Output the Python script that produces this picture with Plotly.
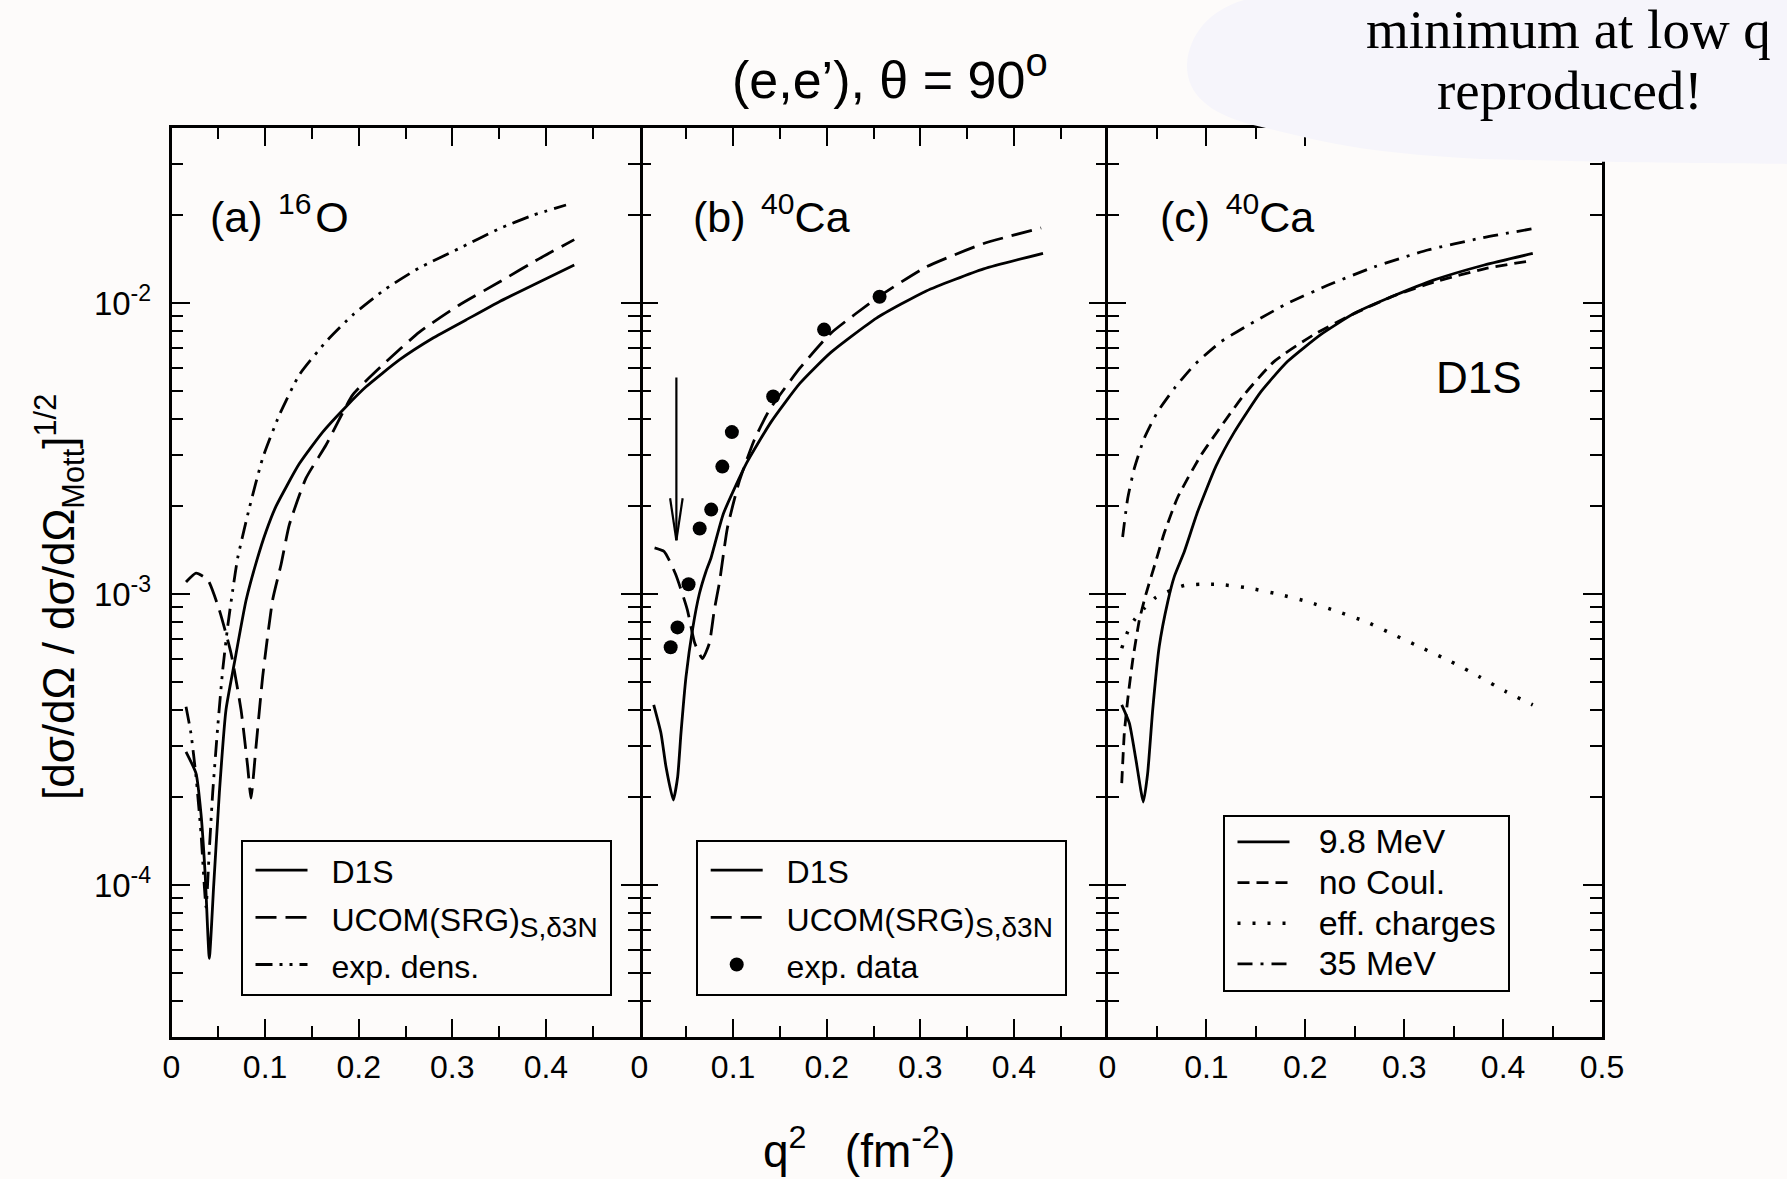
import numpy as np
import plotly.graph_objects as go

# ---------------- data ----------------
# panel (a) 16O
qa_d1s = [0.0155, 0.0262, 0.0315, 0.0361, 0.0404, 0.0451, 0.0511, 0.0582, 0.0671, 0.0796, 0.0913, 0.101,
          0.1116, 0.1365, 0.1615, 0.1864, 0.2078, 0.2434, 0.279, 0.3146, 0.3502, 0.3859, 0.4303]
va_d1s = [2.87e-4, 2.42e-4, 1.76e-4, 1.07e-4, 5.6e-5, 1.0e-4, 2.07e-4, 4.0e-4, 5.78e-4, 9.5e-4, 1.31e-3, 1.64e-3,
          2.0e-3, 2.8e-3, 3.6e-3, 4.4e-3, 5.15e-3, 6.37e-3, 7.56e-3, 8.74e-3, 1.01e-2, 1.15e-2, 1.35e-2]

qa_ucom = [0.0155, 0.0262, 0.0387, 0.0511, 0.0636, 0.0743, 0.0814, 0.0849, 0.0903, 0.0974, 0.108, 0.117,
           0.1259, 0.1437, 0.1651, 0.1936, 0.2256, 0.2648, 0.3075, 0.3502, 0.393, 0.4303]
va_ucom = [1.10e-3, 1.18e-3, 1.12e-3, 8.81e-4, 6.26e-4, 4.0e-4, 2.55e-4, 1.99e-4, 2.99e-4, 5.2e-4, 9.53e-4, 1.26e-3,
           1.73e-3, 2.5e-3, 3.25e-3, 4.83e-3, 6.12e-3, 7.94e-3, 9.84e-3, 1.18e-2, 1.42e-2, 1.65e-2]

qa_exp = [0.0155, 0.0208, 0.0262, 0.0315, 0.0369, 0.0404, 0.044, 0.0494, 0.0547, 0.06, 0.0654, 0.0707, 0.0831,
          0.0974, 0.1152, 0.1365, 0.1651, 0.1936, 0.2292, 0.2648, 0.3075, 0.3502, 0.3859, 0.4215]
va_exp = [4.1e-4, 3.32e-4, 2.36e-4, 1.51e-4, 8.4e-5, 1.32e-4, 2.07e-4, 3.5e-4, 5.48e-4, 7.72e-4, 1.03e-3, 1.33e-3,
          1.97e-3, 2.93e-3, 4.12e-3, 5.66e-3, 7.36e-3, 9.09e-3, 1.12e-2, 1.32e-2, 1.54e-2, 1.80e-2, 2.0e-2, 2.17e-2]

# panel (b) 40Ca
qb_d1s = [0.0152, 0.023, 0.0283, 0.0361, 0.0408, 0.0443, 0.0497, 0.0568, 0.0639, 0.0712, 0.0764, 0.0897, 0.1142,
          0.1408, 0.1715, 0.2042, 0.2532, 0.3064, 0.3677, 0.4311]
vb_d1s = [4.16e-4, 3.32e-4, 2.55e-4, 1.96e-4, 2.36e-4, 3.32e-4, 5.2e-4, 7.6e-4, 1.0e-3, 1.2e-3, 1.33e-3, 1.89e-3, 2.81e-3,
          3.91e-3, 5.3e-3, 6.75e-3, 8.87e-3, 1.10e-2, 1.31e-2, 1.48e-2]

qb_ucom = [0.0161, 0.0263, 0.0386, 0.0509, 0.0591, 0.0673, 0.0746, 0.0799, 0.0855, 0.0938, 0.1061, 0.1224, 0.1388,
           0.1715, 0.2042, 0.2574, 0.3064, 0.3677, 0.4291]
vb_ucom = [1.44e-3, 1.40e-3, 1.17e-3, 8.88e-4, 6.77e-4, 6.0e-4, 6.77e-4, 8.81e-4, 1.10e-3, 1.68e-3, 2.41e-3, 3.37e-3, 4.29e-3,
           5.98e-3, 7.86e-3, 1.06e-2, 1.33e-2, 1.60e-2, 1.81e-2]

qb_data = [0.0333, 0.0406, 0.0524, 0.0643, 0.0766, 0.0885, 0.0987, 0.1428, 0.1972, 0.2565]
vb_data = [6.56e-4, 7.68e-4, 1.08e-3, 1.68e-3, 1.95e-3, 2.74e-3, 3.6e-3, 4.77e-3, 8.1e-3, 1.05e-2]

# arrow marking the low-q minimum in panel (b)
arrow_q = 0.0394
arrow_top = 5.55e-3
arrow_tip = 1.53e-3

# panel (c) 40Ca, D1S
qc_98 = [0.0144, 0.0221, 0.0288, 0.0362, 0.0406, 0.0457, 0.0523, 0.0609, 0.0676, 0.0777, 0.0912, 0.1097, 0.1282,
         0.1552, 0.1822, 0.2159, 0.2496, 0.2901, 0.3304, 0.381, 0.43]
vc_98 = [4.16e-4, 3.6e-4, 2.69e-4, 1.93e-4, 2.42e-4, 4.0e-4, 6.6e-4, 9.4e-4, 1.15e-3, 1.4e-3, 1.92e-3, 2.75e-3, 3.6e-3,
         4.96e-3, 6.3e-3, 7.8e-3, 9.21e-3, 1.06e-2, 1.2e-2, 1.35e-2, 1.48e-2]

qc_nocoul = [0.0144, 0.017, 0.0204, 0.0255, 0.0322, 0.0389, 0.049, 0.0574, 0.071, 0.0946, 0.1384, 0.1686, 0.2091,
             0.2496, 0.2901, 0.3304, 0.381, 0.43]
vc_nocoul = [2.24e-4, 3.32e-4, 4.33e-4, 5.93e-4, 8.14e-4, 1.0e-3, 1.3e-3, 1.62e-3, 2.15e-3, 3.0e-3, 4.85e-3, 6.3e-3,
             7.8e-3, 9.2e-3, 1.06e-2, 1.18e-2, 1.31e-2, 1.40e-2]

qc_eff = [0.0144, 0.0204, 0.0271, 0.0372, 0.049, 0.0642, 0.0777, 0.0945, 0.1114, 0.1418, 0.1722, 0.2024, 0.2328,
          0.2614, 0.2901, 0.3187, 0.3473, 0.3759, 0.4029, 0.43]
vc_eff = [6.51e-4, 7.42e-4, 8.14e-4, 8.93e-4, 9.74e-4, 1.03e-3, 1.07e-3, 1.08e-3, 1.08e-3, 1.05e-3, 1.0e-3, 9.41e-4,
          8.7e-4, 8.03e-4, 7.23e-4, 6.51e-4, 5.86e-4, 5.2e-4, 4.62e-4, 4.16e-4]

qc_35 = [0.0153, 0.0204, 0.0271, 0.0372, 0.0507, 0.0676, 0.0877, 0.1147, 0.1484, 0.1822, 0.2226, 0.2697, 0.3238,
         0.3776, 0.43]
vc_35 = [1.57e-3, 2.13e-3, 2.7e-3, 3.43e-3, 4.23e-3, 5.09e-3, 6.12e-3, 7.36e-3, 8.62e-3, 9.97e-3, 1.15e-2, 1.33e-2,
         1.52e-2, 1.67e-2, 1.80e-2]

x_tickvals = [0, 0.1, 0.2, 0.3, 0.4, 0.5]
x_ticktext_ab = ["0", "0.1", "0.2", "0.3", "0.4", ""]
x_ticktext_c = ["0", "0.1", "0.2", "0.3", "0.4", "0.5"]
y_tickvals = [1e-4, 1e-3, 1e-2]
y_ticktext = ["10<sup>-4</sup>", "10<sup>-3</sup>", "10<sup>-2</sup>"]

# ---------------- layout helpers ----------------
W, H = 1787, 1179
# horizontal placement: the page draws the figure 1756 px wide starting 8 px in
X_OFF, X_SPAN = 8.0, 1756.0
def px(x):
    return (x - X_OFF) / X_SPAN
def py(y):
    return 1 - y / H

BG = '#fdfbfa'
FONT = 'Liberation Sans, Arial, Helvetica, sans-serif'
SERIF = 'Liberation Serif, Times New Roman, serif'
LW = 2.8
SP = '\u00a0\u00a0'

def big(t, size):
    return '<span style="font-size:%dpx">%s</span>' % (size, t)

UCOM = big('UCOM(SRG)<sub>' + big('S,δ3N', 28) + '</sub>', 32) + '\u2009'

fig = go.Figure()

def line(xa, ya, q, v, name, dash, leg, width=LW):
    fig.add_trace(go.Scatter(x=q, y=v, mode='lines', name=name, xaxis=xa, yaxis=ya, legend=leg,
                             line=dict(color='black', width=width, dash=dash, shape='spline', smoothing=0.5)))

DASH_LONG = '21px,9px'
DASH_SHORT = '12px,7px'
DASH_DOTDOT = '17px,7px,3px,7px,3px,7px'
DASH_DOT = '15px,8px,3px,8px'
DOT = '3px,12px'

line('x', 'y', qa_d1s, va_d1s, SP + big('D1S', 32), 'solid', 'legend')
line('x', 'y', qa_ucom, va_ucom, SP + UCOM, DASH_LONG, 'legend')
line('x', 'y', qa_exp, va_exp, SP + big('exp. dens.', 32), DASH_DOTDOT, 'legend')

line('x2', 'y2', qb_d1s, vb_d1s, SP + big('D1S', 32), 'solid', 'legend2')
line('x2', 'y2', qb_ucom, vb_ucom, SP + UCOM, DASH_LONG, 'legend2')
fig.add_trace(go.Scatter(x=qb_data, y=vb_data, mode='markers', name=SP + big('exp. data', 32), xaxis='x2',
                         yaxis='y2', legend='legend2', marker=dict(color='black', size=14, symbol='circle')))

SPC = '\u00a0\u00a0\u00a0'
line('x3', 'y3', qc_98, vc_98, SPC + big('9.8 MeV', 34), 'solid', 'legend3')
line('x3', 'y3', qc_nocoul, vc_nocoul, SPC + big('no Coul.', 34), DASH_SHORT, 'legend3')
line('x3', 'y3', qc_eff, vc_eff, SPC + big('eff. charges', 34) + '\u2009', DOT, 'legend3', width=3.5)
line('x3', 'y3', qc_35, vc_35, SPC + big('35 MeV', 34), DASH_DOT, 'legend3')

x_edges = [(170.5, 638.5), (638.5, 1106.5), (1106.5, 1601.0)]
y_top, y_bot = 127.7, 1037.3
yrange = [np.log10(3e-5), np.log10(0.04)]
minor_y = [k * 10.0 ** e for e in range(-5, -1) for k in range(2, 10)]
minor_x = [0.05, 0.15, 0.25, 0.35, 0.45]

common = dict(showline=True, linewidth=2.5, linecolor='black', mirror='allticks', ticks='inside',
              tickwidth=2, tickcolor='black', ticklen=19, showgrid=False, zeroline=False,
              tickfont=dict(family=FONT, size=32, color='black'))

layout = dict(width=W, height=H, paper_bgcolor=BG, plot_bgcolor=BG,
              margin=dict(l=0, r=0, t=0, b=0), showlegend=True)

for i in range(3):
    sx = '' if i == 0 else str(i + 1)
    layout['xaxis' + sx] = dict(common, domain=[px(x_edges[i][0]), px(x_edges[i][1])], range=[0, 0.5],
                                anchor='y' + sx, tickmode='array', tickvals=x_tickvals,
                                ticktext=x_ticktext_c if i == 2 else x_ticktext_ab,
                                ticklabelstandoff=0,
                                minor=dict(tickmode='array', tickvals=minor_x, ticks='inside', ticklen=12,
                                           tickwidth=2, tickcolor='black'))
    layout['yaxis' + sx] = dict(common, domain=[py(y_bot), py(y_top)], type='log', range=yrange,
                                anchor='x' + sx, tickmode='array', tickvals=y_tickvals, ticktext=y_ticktext,
                                showticklabels=(i == 0), ticklabelstandoff=11,
                                tickfont=dict(family=FONT, size=33, color='black'),
                                linecolor='rgba(0,0,0,0)' if i == 1 else 'black',
                                minor=dict(tickmode='array', tickvals=minor_y, ticks='inside', ticklen=12,
                                           tickwidth=2, tickcolor='black'))

leg_common = dict(xanchor='left', yanchor='top', bordercolor='black', borderwidth=2, bgcolor=BG,
                  font=dict(family=FONT, size=34, color='black'), itemwidth=52, indentation=8,
                  tracegroupgap=0)
layout['legend'] = dict(leg_common, x=px(239.5), y=py(839.5))
layout['legend2'] = dict(leg_common, x=px(694.7), y=py(839.5))
layout['legend3'] = dict(leg_common, x=px(1221.5), y=py(814.5), font=dict(family=FONT, size=29, color='black'))

fig.update_layout(**layout)

# arrow in panel (b)
barb_dq = 0.0067
barb_y = arrow_tip * 10 ** 0.1443
for (x0, y0, x1, y1) in [(arrow_q, arrow_top, arrow_q, arrow_tip),
                         (arrow_q - barb_dq, barb_y, arrow_q, arrow_tip),
                         (arrow_q + barb_dq, barb_y, arrow_q, arrow_tip)]:
    fig.add_shape(type='line', xref='x2', yref='y2', x0=x0, y0=y0, x1=x1, y1=y1,
                  line=dict(color='black', width=2.2))

# speech bubble (top right)
bub = [('M', [(1243, 0)]),
       ('C', [(1208, 10), (1188, 35), (1186, 64)]),
       ('C', [(1185, 94), (1208, 113), (1248, 124)]),
       ('C', [(1278, 131), (1302, 137), (1330, 143)]),
       ('C', [(1370, 151), (1420, 156), (1480, 159)]),
       ('C', [(1560, 161), (1620, 163), (1800, 164)]),
       ('L', [(1800, 0)])]
path = ''
for cmd, pts in bub:
    path += cmd + ' '.join('%.5f,%.5f' % (px(a), py(b)) for a, b in pts) + ' '
path += 'Z'
fig.add_shape(type='path', xref='paper', yref='paper', path=path, fillcolor='#f6f5fb',
              line=dict(width=0), layer='above')

def ann(text, x, y, size, xanchor='center', yanchor='middle', family=FONT, angle=0):
    fig.add_annotation(text=text, x=px(x), y=py(y), xref='paper', yref='paper', showarrow=False,
                       xanchor=xanchor, yanchor=yanchor, textangle=angle,
                       font=dict(family=family, size=size, color='black'))

ann('(e,e’), θ = 90<sup>' + big('o', 40) + '</sup>', 889, 74, 52)
ann('minimum at low q', 1567, 29, 55, family=SERIF)
ann('reproduced!', 1569, 90, 55, family=SERIF)
ann('(a) \u200a<sup>16</sup>\u200aO', 207.4, 214, 43, xanchor='left')
ann('(b) \u200a<sup>40</sup>Ca', 689.5, 214, 43, xanchor='left')
ann('(c) \u200a<sup>40</sup>Ca', 1156.8, 214, 43, xanchor='left')
ann('D1S', 1478, 377, 44)
ann('[dσ/dΩ / dσ/dΩ<sub>Mott</sub>]<sup>1/2</sup>', 58, 597, 44, angle=-90)
ann('q<sup>2</sup>\u00a0\u00a0\u00a0(fm<sup>-2</sup>)', 858, 1148, 46)

fig.write_html("out.html", post_script="document.body.style.margin='0';document.body.style.background='%s';" % BG)
